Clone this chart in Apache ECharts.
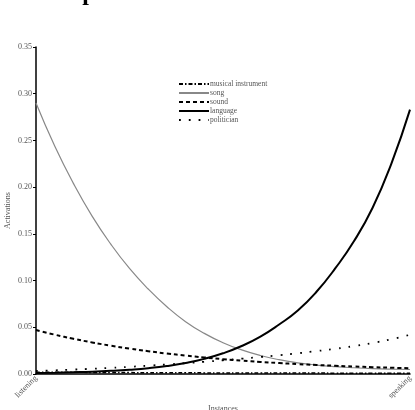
<!DOCTYPE html>
<html>
<head>
<meta charset="utf-8">
<script src="https://cdn.jsdelivr.net/npm/echarts@6/dist/echarts.min.js"></script>
<style>
  html, body { margin: 0; padding: 0; background: #fff; }
  #chart { width: 415px; height: 410px; }
</style>
</head>
<body>
<div id="chart"></div>
<script>
// 21 interpolation steps between the two instances
const steps = ['listening', '', '', '', '', '', '', '', '', '', '', '', '', '', '', '', '', '', '', '', 'speaking'];

const musicalInstrument = [0.0020, 0.0019, 0.0018, 0.0017, 0.0016, 0.0015, 0.0014, 0.0013, 0.0013, 0.0012, 0.0012,
                           0.0011, 0.0011, 0.0010, 0.0010, 0.0010, 0.0009, 0.0009, 0.0009, 0.0008, 0.0008];
const song = [0.290, 0.244, 0.204, 0.169, 0.139, 0.113, 0.091, 0.072, 0.056, 0.0435, 0.0335,
              0.0258, 0.0198, 0.0153, 0.0120, 0.0096, 0.0079, 0.0067, 0.0058, 0.0052, 0.0048];
const sound = [0.0470, 0.0421, 0.0377, 0.0338, 0.0303, 0.0272, 0.0244, 0.0219, 0.0197, 0.0177, 0.0159,
               0.0143, 0.0129, 0.0117, 0.0106, 0.0096, 0.0088, 0.0080, 0.0073, 0.0067, 0.0062];
const language = [0.0011, 0.0014, 0.0019, 0.0025, 0.0034, 0.0046, 0.0062, 0.0085, 0.0118, 0.0162, 0.0222,
                  0.0300, 0.0400, 0.0530, 0.0680, 0.0880, 0.1130, 0.1420, 0.1780, 0.2250, 0.2830];
const politician = [0.0032, 0.0039, 0.0047, 0.0056, 0.0066, 0.0077, 0.0089, 0.0102, 0.0116, 0.0131, 0.0147,
                    0.0164, 0.0182, 0.0201, 0.0222, 0.0245, 0.0270, 0.0298, 0.0332, 0.0372, 0.0420];

const serif = 'Liberation Serif';

const chart = echarts.init(document.getElementById('chart'));

function lineSeries(name, data, color, width, type) {
    return {
        name: name,
        type: 'line',
        data: data,
        symbol: 'none',
        smooth: 0.5,
        lineStyle: { color: color, width: width, type: type },
        itemStyle: { color: color },
        emphasis: { disabled: true }
    };
}

const option = {
    animation: false,
    title: {
        text: 'Sampler',
        left: 32,
        top: -23,
        textStyle: { fontFamily: serif, fontSize: 24, fontWeight: 'bold', color: '#000' }
    },
    legend: {
        orient: 'vertical',
        left: 178,
        top: 80,
        padding: 0,
        itemWidth: 30,
        itemHeight: 7,
        itemGap: 1,
        itemStyle: { opacity: 0 },
        textStyle: { fontFamily: serif, fontSize: 7.5, color: '#555', padding: [0, 0, 0, -4] },
        data: ['musical instrument', 'song', 'sound', 'language', 'politician']
    },
    grid: { left: 36, right: 5, top: 47, bottom: 36, outerBoundsMode: 'none', containLabel: false },
    xAxis: {
        type: 'category',
        data: steps,
        boundaryGap: false,
        name: 'Instances',
        nameLocation: 'middle',
        nameGap: 31,
        nameMoveOverlap: false,
        nameTextStyle: { fontFamily: serif, fontSize: 8, color: '#555' },
        axisLine: { lineStyle: { color: '#000', width: 1.5 } },
        axisTick: { show: false },
        axisLabel: {
            interval: 0,
            rotate: 45,
            margin: 3,
            fontFamily: serif,
            fontSize: 8,
            color: '#555'
        },
        splitLine: { show: false }
    },
    yAxis: {
        type: 'value',
        min: 0,
        max: 0.35,
        interval: 0.05,
        name: 'Activations',
        nameLocation: 'middle',
        nameGap: 24,
        nameMoveOverlap: false,
        nameTextStyle: { fontFamily: serif, fontSize: 8, color: '#555' },
        axisLine: { show: true, lineStyle: { color: '#000', width: 1.5 } },
        axisTick: { show: true, length: 3, lineStyle: { color: '#000' } },
        axisLabel: {
            margin: 4,
            fontFamily: serif,
            fontSize: 8,
            color: '#555',
            formatter: v => v.toFixed(2)
        },
        splitLine: { show: false }
    },
    series: [
        lineSeries('musical instrument', musicalInstrument, '#000', 1.5, [4, 2, 1.5, 2]),
        lineSeries('song', song, '#888', 1.2, 'solid'),
        lineSeries('sound', sound, '#000', 2, [4, 3]),
        lineSeries('language', language, '#000', 2, 'solid'),
        lineSeries('politician', politician, '#000', 1.8, [1.8, 8])
    ]
};

chart.setOption(option);
</script>
</body>
</html>
